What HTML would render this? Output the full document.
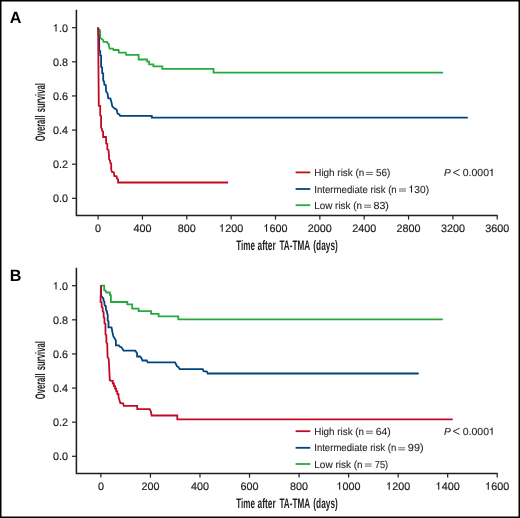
<!DOCTYPE html>
<html><head><meta charset="utf-8"><style>
html,body{margin:0;padding:0;background:#fff;}
svg{display:block;will-change:transform;}
text{font-family:"Liberation Sans",sans-serif;fill:#231f20;text-rendering:geometricPrecision;}
.tk{font-size:10.8px;stroke:#231f20;stroke-width:0.2px;}
.lg{font-size:10.2px;stroke:#231f20;stroke-width:0.1px;}
.tt{font-size:13.9px;font-weight:bold;}
.pl{font-size:16.2px;font-weight:bold;fill:#000;}
</style></head><body>
<svg width="520" height="518" viewBox="0 0 520 518">
<rect x="0" y="0" width="520" height="518" fill="#fff"/>
<path d="M76.4 9.8 V215.45 H497.7" fill="none" stroke="#231f20" stroke-width="1.55"/>
<line x1="72" y1="27.70" x2="76.5" y2="27.70" stroke="#231f20" stroke-width="1.2"/>
<text x="52.99" y="31.50" class="tk"> .0</text>
<path d="M56.60 23.91 L56.60 31.50 L55.49 31.50 L55.49 26.05 L54.82 26.37 L53.80 26.48 L53.80 25.61 L54.82 25.45 L55.45 24.80 L55.74 23.91 Z" fill="#231f20"/>
<line x1="72" y1="61.82" x2="76.5" y2="61.82" stroke="#231f20" stroke-width="1.2"/>
<text x="52.99" y="65.62" class="tk">0.8</text>
<line x1="72" y1="95.94" x2="76.5" y2="95.94" stroke="#231f20" stroke-width="1.2"/>
<text x="52.99" y="99.74" class="tk">0.6</text>
<line x1="72" y1="130.06" x2="76.5" y2="130.06" stroke="#231f20" stroke-width="1.2"/>
<text x="52.99" y="133.86" class="tk">0.4</text>
<line x1="72" y1="164.18" x2="76.5" y2="164.18" stroke="#231f20" stroke-width="1.2"/>
<text x="52.99" y="167.98" class="tk">0.2</text>
<line x1="72" y1="198.30" x2="76.5" y2="198.30" stroke="#231f20" stroke-width="1.2"/>
<text x="52.99" y="202.10" class="tk">0.0</text>
<line x1="98.10" y1="215.4" x2="98.10" y2="219.6" stroke="#231f20" stroke-width="1.2"/>
<text x="95.10" y="231.70" class="tk">0</text>
<line x1="142.45" y1="215.4" x2="142.45" y2="219.6" stroke="#231f20" stroke-width="1.2"/>
<text x="133.44" y="231.70" class="tk">400</text>
<line x1="186.80" y1="215.4" x2="186.80" y2="219.6" stroke="#231f20" stroke-width="1.2"/>
<text x="177.79" y="231.70" class="tk">800</text>
<line x1="231.15" y1="215.4" x2="231.15" y2="219.6" stroke="#231f20" stroke-width="1.2"/>
<text x="219.14" y="231.70" class="tk"> 200</text>
<path d="M222.76 224.11 L222.76 231.70 L221.64 231.70 L221.64 226.25 L220.97 226.57 L219.95 226.68 L219.95 225.81 L220.97 225.65 L221.60 225.00 L221.89 224.11 Z" fill="#231f20"/>
<line x1="275.50" y1="215.4" x2="275.50" y2="219.6" stroke="#231f20" stroke-width="1.2"/>
<text x="263.49" y="231.70" class="tk"> 600</text>
<path d="M267.11 224.11 L267.11 231.70 L265.99 231.70 L265.99 226.25 L265.32 226.57 L264.30 226.68 L264.30 225.81 L265.32 225.65 L265.95 225.00 L266.24 224.11 Z" fill="#231f20"/>
<line x1="319.85" y1="215.4" x2="319.85" y2="219.6" stroke="#231f20" stroke-width="1.2"/>
<text x="307.84" y="231.70" class="tk">2000</text>
<line x1="364.20" y1="215.4" x2="364.20" y2="219.6" stroke="#231f20" stroke-width="1.2"/>
<text x="352.19" y="231.70" class="tk">2400</text>
<line x1="408.55" y1="215.4" x2="408.55" y2="219.6" stroke="#231f20" stroke-width="1.2"/>
<text x="396.54" y="231.70" class="tk">2800</text>
<line x1="452.90" y1="215.4" x2="452.90" y2="219.6" stroke="#231f20" stroke-width="1.2"/>
<text x="440.89" y="231.70" class="tk">3200</text>
<line x1="497.25" y1="215.4" x2="497.25" y2="219.6" stroke="#231f20" stroke-width="1.2"/>
<text x="485.24" y="231.70" class="tk">3600</text>
<text x="9.7" y="23.0" class="pl">A</text>
<text x="236.3" y="249.6" class="tt" textLength="18.6" lengthAdjust="spacingAndGlyphs">Time</text>
<text x="257.6" y="249.6" class="tt" textLength="18.1" lengthAdjust="spacingAndGlyphs">after</text>
<text x="279.4" y="249.6" class="tt" textLength="30.7" lengthAdjust="spacingAndGlyphs">TA-TMA</text>
<text x="313.3" y="249.6" class="tt" textLength="24.5" lengthAdjust="spacingAndGlyphs">(days)</text>
<g transform="translate(44.5 112.1) rotate(-90)">
<text x="-29.1" y="0" class="tt" textLength="25.7" lengthAdjust="spacingAndGlyphs">Overall</text>
<text x="-0.1" y="0" class="tt" textLength="29.2" lengthAdjust="spacingAndGlyphs">survival</text>
</g>
<polyline points="98.10,29.60 99.70,29.60 99.70,31.30 100.20,31.40 100.20,37.80 100.90,38.40 102.10,39.30 103.20,40.20 103.50,41.90 107.00,41.90 107.60,43.30 108.70,43.90 109.00,45.90 109.60,48.60 113.00,48.60 113.60,50.00 118.60,50.00 118.80,52.60 125.80,52.60 126.20,54.80 138.60,54.80 138.60,59.50 147.20,59.50 147.20,61.60 149.10,61.60 149.10,64.30 153.40,64.30 153.40,66.30 162.30,66.30 162.30,68.90 213.50,68.90 213.50,72.60 443.10,72.60" fill="none" stroke="#26a93e" stroke-width="1.8" stroke-linejoin="miter"/>
<polyline points="98.10,27.70 99.20,40.00 99.20,50.80 100.20,51.00 100.20,55.40 101.10,55.60 101.10,67.00 102.10,67.40 102.20,73.20 103.20,73.40 103.20,80.30 104.10,81.80 104.40,84.70 105.80,85.10 106.10,91.40 107.50,93.30 108.30,98.20 110.40,98.60 111.40,102.00 112.30,106.40 114.30,108.30 116.70,109.70 117.60,113.60 119.60,114.60 120.10,115.80 151.80,115.80 151.80,117.60 467.80,117.60" fill="none" stroke="#004480" stroke-width="1.8" stroke-linejoin="miter"/>
<polyline points="98.10,27.70 98.80,105.70 100.20,106.00 100.20,115.40 101.10,116.00 101.10,127.80 102.00,128.90 102.10,130.80 103.10,131.60 103.10,137.00 106.00,137.00 106.20,143.60 107.30,144.00 107.30,149.20 108.50,150.00 108.90,154.30 109.10,159.30 110.00,160.40 110.40,163.10 111.20,163.50 111.20,169.70 112.00,172.00 113.90,172.40 114.30,175.90 116.60,176.30 117.00,178.60 118.10,179.40 118.10,182.50 228.10,182.50" fill="none" stroke="#c20a22" stroke-width="1.8" stroke-linejoin="miter"/>
<path d="M96.90 27.50 H99.20" stroke="#004480" stroke-width="0.9" opacity="0.55"/>
<line x1="295.6" y1="172.4" x2="310.3" y2="172.4" stroke="#c20a22" stroke-width="1.8"/>
<text x="314.29" y="175.90" class="lg" textLength="49.95" lengthAdjust="spacingAndGlyphs">High risk (n</text>
<path d="M366.10 172.40 H372.90 M366.10 174.45 H372.90" stroke="#231f20" stroke-width="0.85" stroke-opacity="0.8" fill="none"/>
<text x="376.00" y="175.90" class="lg" textLength="14.42" lengthAdjust="spacingAndGlyphs">56)</text>
<line x1="295.6" y1="189.0" x2="310.3" y2="189.0" stroke="#004480" stroke-width="1.8"/>
<text x="314.21" y="192.50" class="lg" textLength="82.52" lengthAdjust="spacingAndGlyphs">Intermediate risk (n</text>
<path d="M399.00 189.00 H406.00 M399.00 191.05 H406.00" stroke="#231f20" stroke-width="0.85" stroke-opacity="0.8" fill="none"/>
<text x="408.64" y="192.50" class="lg" textLength="20.40" lengthAdjust="spacingAndGlyphs"> 30)</text>
<path d="M412.05 185.33 L412.05 192.50 L411.00 192.50 L411.00 187.35 L410.37 187.66 L409.40 187.76 L409.40 186.94 L410.37 186.79 L410.96 186.18 L411.23 185.33 Z" fill="#231f20"/>
<line x1="295.6" y1="205.2" x2="310.3" y2="205.2" stroke="#26a93e" stroke-width="1.8"/>
<text x="314.29" y="208.70" class="lg" textLength="47.65" lengthAdjust="spacingAndGlyphs">Low risk (n</text>
<path d="M364.10 205.20 H371.10 M364.10 207.25 H371.10" stroke="#231f20" stroke-width="0.85" stroke-opacity="0.8" fill="none"/>
<text x="373.43" y="208.70" class="lg" textLength="15.53" lengthAdjust="spacingAndGlyphs">83)</text>
<text x="444" y="175.9" class="lg" font-style="italic">P</text>
<path d="M459.6 169.4 L453.3 172.5 L459.6 175.6" fill="none" stroke="#231f20" stroke-width="0.95"/>
<text x="462.69" y="175.90" class="lg" textLength="32.24" lengthAdjust="spacingAndGlyphs">0.000 </text>
<path d="M492.60 168.73 L492.60 175.90 L491.51 175.90 L491.51 170.75 L490.86 171.06 L489.86 171.16 L489.86 170.34 L490.86 170.19 L491.47 169.58 L491.76 168.73 Z" fill="#231f20"/>
<path d="M76.4 267.8 V473.45 H497.7" fill="none" stroke="#231f20" stroke-width="1.55"/>
<line x1="72" y1="285.70" x2="76.5" y2="285.70" stroke="#231f20" stroke-width="1.2"/>
<text x="52.99" y="289.50" class="tk"> .0</text>
<path d="M56.60 281.91 L56.60 289.50 L55.49 289.50 L55.49 284.05 L54.82 284.37 L53.80 284.48 L53.80 283.61 L54.82 283.45 L55.45 282.80 L55.74 281.91 Z" fill="#231f20"/>
<line x1="72" y1="319.82" x2="76.5" y2="319.82" stroke="#231f20" stroke-width="1.2"/>
<text x="52.99" y="323.62" class="tk">0.8</text>
<line x1="72" y1="353.94" x2="76.5" y2="353.94" stroke="#231f20" stroke-width="1.2"/>
<text x="52.99" y="357.74" class="tk">0.6</text>
<line x1="72" y1="388.06" x2="76.5" y2="388.06" stroke="#231f20" stroke-width="1.2"/>
<text x="52.99" y="391.86" class="tk">0.4</text>
<line x1="72" y1="422.18" x2="76.5" y2="422.18" stroke="#231f20" stroke-width="1.2"/>
<text x="52.99" y="425.98" class="tk">0.2</text>
<line x1="72" y1="456.30" x2="76.5" y2="456.30" stroke="#231f20" stroke-width="1.2"/>
<text x="52.99" y="460.10" class="tk">0.0</text>
<line x1="100.90" y1="473.4" x2="100.90" y2="477.6" stroke="#231f20" stroke-width="1.2"/>
<text x="97.90" y="489.70" class="tk">0</text>
<line x1="150.44" y1="473.4" x2="150.44" y2="477.6" stroke="#231f20" stroke-width="1.2"/>
<text x="141.43" y="489.70" class="tk">200</text>
<line x1="199.98" y1="473.4" x2="199.98" y2="477.6" stroke="#231f20" stroke-width="1.2"/>
<text x="190.97" y="489.70" class="tk">400</text>
<line x1="249.52" y1="473.4" x2="249.52" y2="477.6" stroke="#231f20" stroke-width="1.2"/>
<text x="240.51" y="489.70" class="tk">600</text>
<line x1="299.06" y1="473.4" x2="299.06" y2="477.6" stroke="#231f20" stroke-width="1.2"/>
<text x="290.05" y="489.70" class="tk">800</text>
<line x1="348.60" y1="473.4" x2="348.60" y2="477.6" stroke="#231f20" stroke-width="1.2"/>
<text x="336.59" y="489.70" class="tk"> 000</text>
<path d="M340.21 482.11 L340.21 489.70 L339.09 489.70 L339.09 484.25 L338.42 484.57 L337.40 484.68 L337.40 483.81 L338.42 483.65 L339.05 483.00 L339.34 482.11 Z" fill="#231f20"/>
<line x1="398.14" y1="473.4" x2="398.14" y2="477.6" stroke="#231f20" stroke-width="1.2"/>
<text x="386.13" y="489.70" class="tk"> 200</text>
<path d="M389.75 482.11 L389.75 489.70 L388.63 489.70 L388.63 484.25 L387.96 484.57 L386.94 484.68 L386.94 483.81 L387.96 483.65 L388.59 483.00 L388.88 482.11 Z" fill="#231f20"/>
<line x1="447.68" y1="473.4" x2="447.68" y2="477.6" stroke="#231f20" stroke-width="1.2"/>
<text x="435.67" y="489.70" class="tk"> 400</text>
<path d="M439.29 482.11 L439.29 489.70 L438.17 489.70 L438.17 484.25 L437.50 484.57 L436.48 484.68 L436.48 483.81 L437.50 483.65 L438.13 483.00 L438.42 482.11 Z" fill="#231f20"/>
<line x1="497.22" y1="473.4" x2="497.22" y2="477.6" stroke="#231f20" stroke-width="1.2"/>
<text x="485.21" y="489.70" class="tk"> 600</text>
<path d="M488.83 482.11 L488.83 489.70 L487.71 489.70 L487.71 484.25 L487.04 484.57 L486.02 484.68 L486.02 483.81 L487.04 483.65 L487.67 483.00 L487.96 482.11 Z" fill="#231f20"/>
<text x="9.7" y="281.0" class="pl">B</text>
<text x="236.3" y="507.6" class="tt" textLength="18.6" lengthAdjust="spacingAndGlyphs">Time</text>
<text x="257.6" y="507.6" class="tt" textLength="18.1" lengthAdjust="spacingAndGlyphs">after</text>
<text x="279.4" y="507.6" class="tt" textLength="30.7" lengthAdjust="spacingAndGlyphs">TA-TMA</text>
<text x="313.3" y="507.6" class="tt" textLength="24.5" lengthAdjust="spacingAndGlyphs">(days)</text>
<g transform="translate(44.5 370.1) rotate(-90)">
<text x="-29.1" y="0" class="tt" textLength="25.7" lengthAdjust="spacingAndGlyphs">Overall</text>
<text x="-0.1" y="0" class="tt" textLength="29.2" lengthAdjust="spacingAndGlyphs">survival</text>
</g>
<polyline points="101.20,285.70 104.20,285.70 104.20,290.20 105.70,290.80 106.40,292.50 109.90,292.50 109.90,295.00 110.90,295.20 110.90,302.00 127.30,302.00 127.30,304.30 132.20,304.30 132.20,308.60 138.60,308.60 138.60,311.20 151.10,311.20 151.10,313.80 158.60,313.80 158.60,316.40 178.30,316.40 178.30,319.40 442.80,319.40" fill="none" stroke="#26a93e" stroke-width="1.8" stroke-linejoin="miter"/>
<polyline points="101.00,285.70 101.20,296.00 102.40,297.40 103.40,298.60 103.50,300.80 104.30,301.30 104.60,305.40 105.80,306.10 106.10,310.40 106.90,311.00 107.20,313.60 107.70,314.40 107.70,320.40 108.50,321.30 108.50,327.30 111.50,327.30 112.50,332.50 113.40,336.40 114.90,338.80 115.90,340.80 115.90,345.30 118.80,345.30 119.70,346.50 121.60,347.50 122.60,349.00 123.60,350.70 135.20,350.70 136.10,351.90 137.10,353.30 137.10,356.50 140.00,356.50 141.00,357.60 141.90,359.10 142.40,360.50 146.70,360.50 147.70,362.30 175.10,362.30 176.20,364.60 176.90,366.20 178.50,367.20 179.70,369.20 202.80,369.20 203.50,371.10 206.90,371.50 207.70,373.50 418.70,373.50" fill="none" stroke="#004480" stroke-width="1.8" stroke-linejoin="miter"/>
<polyline points="101.00,285.70 100.50,301.90 101.60,302.40 101.70,307.00 102.60,307.50 102.80,311.60 103.60,312.00 103.70,317.40 104.40,318.00 104.50,323.20 105.40,323.80 105.50,334.60 106.30,335.10 106.40,342.60 107.20,343.30 107.60,357.60 108.60,358.40 108.90,362.00 109.80,380.30 111.60,380.90 112.75,380.90 112.75,383.50 113.90,383.50 113.90,386.10 115.05,386.10 115.05,388.70 116.20,388.70 116.20,391.30 117.35,391.30 117.35,394.20 118.50,394.20 118.50,397.10 120.30,402.90 123.20,403.50 123.80,405.80 137.10,405.80 137.30,409.20 149.80,409.20 151.00,412.10 151.60,415.50 177.30,415.50 177.30,419.30 452.70,419.30" fill="none" stroke="#c20a22" stroke-width="1.8" stroke-linejoin="miter"/>
<path d="M99.80 285.50 H102.10" stroke="#004480" stroke-width="0.9" opacity="0.55"/>
<line x1="295.6" y1="431.2" x2="310.3" y2="431.2" stroke="#c20a22" stroke-width="1.8"/>
<text x="314.29" y="434.70" class="lg" textLength="49.75" lengthAdjust="spacingAndGlyphs">High risk (n</text>
<path d="M366.00 431.20 H372.90 M366.00 433.25 H372.90" stroke="#231f20" stroke-width="0.85" stroke-opacity="0.8" fill="none"/>
<text x="375.77" y="434.70" class="lg" textLength="15.08" lengthAdjust="spacingAndGlyphs">64)</text>
<line x1="295.6" y1="447.8" x2="310.3" y2="447.8" stroke="#004480" stroke-width="1.8"/>
<text x="314.22" y="451.30" class="lg" textLength="82.01" lengthAdjust="spacingAndGlyphs">Intermediate risk (n</text>
<path d="M398.30 447.80 H405.10 M398.30 449.85 H405.10" stroke="#231f20" stroke-width="0.85" stroke-opacity="0.8" fill="none"/>
<text x="407.89" y="451.30" class="lg" textLength="15.79" lengthAdjust="spacingAndGlyphs">99)</text>
<line x1="295.6" y1="464.0" x2="310.3" y2="464.0" stroke="#26a93e" stroke-width="1.8"/>
<text x="314.28" y="467.50" class="lg" textLength="48.37" lengthAdjust="spacingAndGlyphs">Low risk (n</text>
<path d="M364.80 464.00 H371.60 M364.80 466.05 H371.60" stroke="#231f20" stroke-width="0.85" stroke-opacity="0.8" fill="none"/>
<text x="374.72" y="467.50" class="lg" textLength="13.45" lengthAdjust="spacingAndGlyphs">75)</text>
<text x="444" y="434.7" class="lg" font-style="italic">P</text>
<path d="M459.6 428.2 L453.3 431.3 L459.6 434.4" fill="none" stroke="#231f20" stroke-width="0.95"/>
<text x="462.69" y="434.70" class="lg" textLength="32.24" lengthAdjust="spacingAndGlyphs">0.000 </text>
<path d="M492.60 427.53 L492.60 434.70 L491.51 434.70 L491.51 429.55 L490.86 429.86 L489.86 429.96 L489.86 429.14 L490.86 428.99 L491.47 428.38 L491.76 427.53 Z" fill="#231f20"/>
<rect x="0.75" y="0.75" width="518.5" height="516.5" fill="none" stroke="#000" stroke-width="1.5"/>
</svg>
</body></html>
